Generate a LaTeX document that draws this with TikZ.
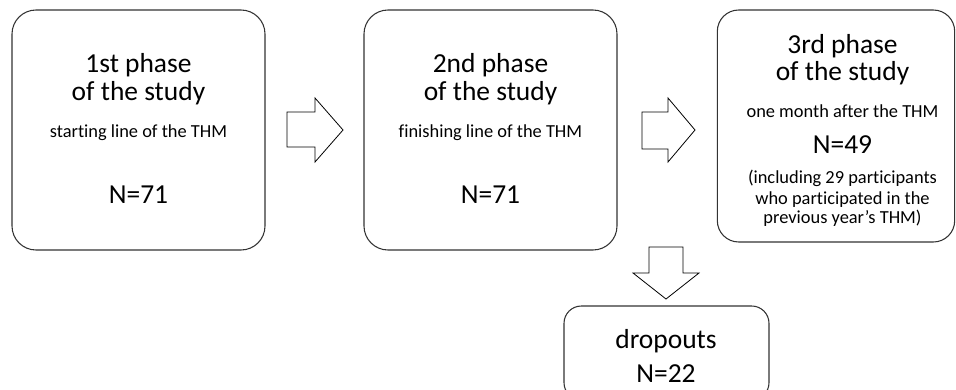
\documentclass[tikz,border=0pt]{standalone}
\usepackage{fontspec}
\setmainfont[Ligatures=NoCommon]{Carlito}
\begin{document}
\begin{tikzpicture}[x=0.75pt,y=-0.75pt,
  box/.style={draw=black!80, line width=0.8pt, rounded corners=18pt, inner sep=0pt},
  big/.style={font=\fontsize{20.6}{24}\selectfont, anchor=base, inner sep=0pt},
  small/.style={font=\fontsize{13.8}{16}\selectfont, anchor=base, inner sep=0pt},
  blockarrow/.style={draw=black, line width=0.6pt, fill=white, line join=miter}]
\useasboundingbox (0,0) rectangle (956,389);
\clip (0,0) rectangle (956,389);
% boxes
\node[box, minimum width=189.75pt, minimum height=180pt] (b1) at (138.5,130) {};
\node[box, minimum width=189.75pt, minimum height=180pt] (b2) at (490.5,130) {};
\node[box, rounded corners=16pt, minimum width=178pt, minimum height=174pt] (b3) at (836,126) {};
\node[box, rounded corners=13pt, minimum width=153.75pt, minimum height=70.5pt] (b4) at (666.5,353) {};
% texts box 1
\node[big] (t1a) at (138.5,72) {1st phase};
\node[big] (t1b) at (138.5,100) {of the study};
\node[small] (t1c) at (138.5,137) {starting line of the THM};
\node[big] (t1d) at (138.5,203) {N=71};
% texts box 2
\node[big] (t2a) at (490.5,72) {2nd phase};
\node[big] (t2b) at (490.5,100) {of the study};
\node[small] (t2c) at (490.5,137) {finishing line of the THM};
\node[big] (t2d) at (490.5,203) {N=71};
% texts box 3
\node[big] (t3a) at (842.5,53) {3rd phase};
\node[big] (t3b) at (842.5,80) {of the study};
\node[small] (t3c) at (842.5,117) {one month after the THM};
\node[big] (t3d) at (842.5,153) {N=49};
\node[small] (t3e) at (842.5,183) {(including 29 participants};
\node[small] (t3f) at (842.5,204) {who participated in the};
\node[small] (t3g) at (842.5,223) {previous year’s THM)};
% dropouts
\node[big] (t4a) at (666,348) {dropouts};
\node[big] (t4b) at (666,382) {N=22};
% block arrows
\draw[blockarrow] (287,112) -- (315,112) -- (315,98) -- (343,130) -- (315,162) -- (315,147) -- (287,147) -- cycle;
\draw[blockarrow] (642,112) -- (668,112) -- (668,98) -- (695,130) -- (668,162) -- (668,149) -- (642,149) -- cycle;
\draw[blockarrow] (649,247) -- (683,247) -- (683,273) -- (699,273) -- (666,299) -- (633,273) -- (649,273) -- cycle;
\end{tikzpicture}
\end{document}
